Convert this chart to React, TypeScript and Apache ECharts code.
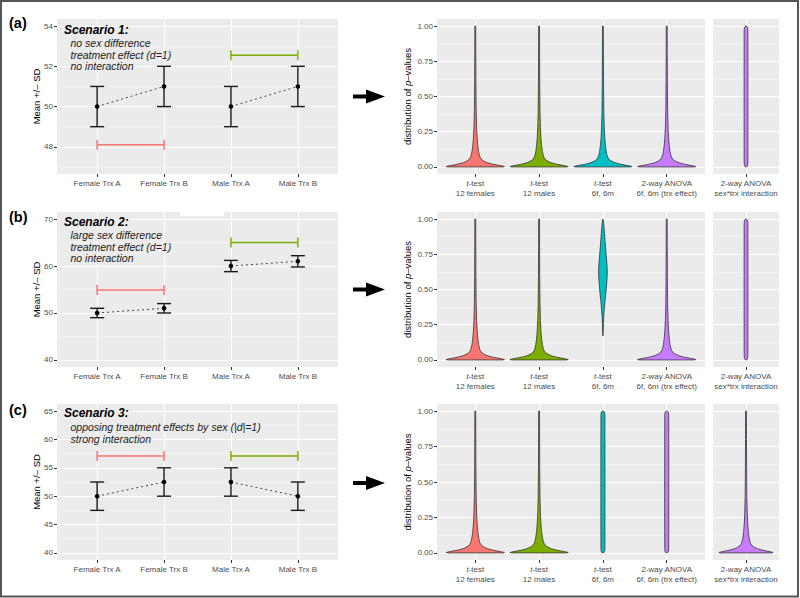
import React, { useEffect, useRef } from 'react';
import * as echarts from 'echarts';

// ---------- data ----------
const groups = ['Female Trx A', 'Female Trx B', 'Male Trx A', 'Male Trx B'];
const tests = ['t-test\n12 females', 't-test\n12 males', 't-test\n6f, 6m', '2-way ANOVA\n6f, 6m (trx effect)'];
const interactionTest = ['2-way ANOVA\nsex*trx interaction'];

const meansA = [50, 51, 50, 51];
const sdsA = [1, 1, 1, 1];
const meansB = [50, 51, 60, 61];
const sdsB = [1, 1, 1.2, 1.2];
const meansC = [50, 52.5, 52.5, 50];
const sdsC = [2.5, 2.5, 2.5, 2.5];

// treatment-effect brackets: [from group, to group, y]
const bracketsA = [[0, 1, 48.1], [2, 3, 52.55]];
const bracketsB = [[0, 1, 54.9], [2, 3, 65]];
const bracketsC = [[0, 1, 57.1], [2, 3, 57.1]];

const limitsA = [46.65, 54.35];
const limitsB = [38.5, 71.5];
const limitsC = [38.75, 66.25];
const limitsP = [-0.05, 1.05];

const ticksA = [48, 50, 52, 54];
const minorA = [47, 49, 51, 53];
const ticksB = [40, 50, 60, 70];
const minorB = [45, 55, 65];
const ticksC = [40, 45, 50, 55, 60, 65];
const minorC = [42.5, 47.5, 52.5, 57.5, 62.5];
const ticksP = [0, 0.25, 0.5, 0.75, 1];
const minorP = [0.125, 0.375, 0.625, 0.875];

// violin profiles: [p-value, half-width as fraction of category spacing]
const skewedProfile = [
  [0, 0.43], [0.003, 0.456], [0.008, 0.41], [0.013, 0.35], [0.02, 0.27], [0.03, 0.19],
  [0.04, 0.14], [0.05, 0.105], [0.065, 0.08], [0.085, 0.063], [0.11, 0.052], [0.15, 0.04],
  [0.2, 0.03], [0.28, 0.021], [0.4, 0.014], [0.6, 0.01], [0.8, 0.008], [1, 0.007],
];
const uniformProfile = [
  [0, 0], [0.003, 0.017], [0.01, 0.026], [0.03, 0.031], [0.5, 0.032], [0.97, 0.031],
  [0.99, 0.026], [0.997, 0.017], [1, 0],
];
const bellProfile = [
  [0.17, 0], [0.2, 0.005], [0.26, 0.008], [0.31, 0.013], [0.36, 0.021], [0.41, 0.031],
  [0.46, 0.042], [0.51, 0.053], [0.56, 0.062], [0.61, 0.068], [0.65, 0.067], [0.7, 0.06],
  [0.75, 0.05], [0.8, 0.041], [0.85, 0.033], [0.9, 0.025], [0.94, 0.018], [0.97, 0.012],
  [0.99, 0.007], [1, 0],
];

const violinsA = [skewedProfile, skewedProfile, skewedProfile, skewedProfile];
const interactionA = [uniformProfile];
const violinsB = [skewedProfile, skewedProfile, bellProfile, skewedProfile];
const interactionB = [uniformProfile];
const violinsC = [skewedProfile, skewedProfile, uniformProfile, uniformProfile];
const interactionC = [skewedProfile];

const scenarioTitles = ['Scenario 1:', 'Scenario 2:', 'Scenario 3:'];
const scenarioLines = [
  ['no sex difference', 'treatment effect (d=1)', 'no interaction'],
  ['large sex difference', 'treatment effect (d=1)', 'no interaction'],
  ['opposing treatment effects by sex (|d|=1)', 'strong interaction'],
];
const panelTags = ['(a)', '(b)', '(c)'];

// ---------- style ----------
const FONT = '"Liberation Sans", Arial, Helvetica, sans-serif';
const FILLS = ['#F8766D', '#7CAE00', '#00BFC4', '#C77CFF'];
const BG = '#EBEBEB';
const TXT = '#4D4D4D';

const rowsLayout = [
  { top: 19, height: 155, means: meansA, sds: sdsA, brackets: bracketsA, limits: limitsA, ticks: ticksA, minor: minorA, violins: violinsA, inter: interactionA, textY: [30, 43, 55, 66], arrowY: 96.5 },
  { top: 212, height: 155, means: meansB, sds: sdsB, brackets: bracketsB, limits: limitsB, ticks: ticksB, minor: minorB, violins: violinsB, inter: interactionB, textY: [222, 235, 247, 258], arrowY: 289.5 },
  { top: 404, height: 156, means: meansC, sds: sdsC, brackets: bracketsC, limits: limitsC, ticks: ticksC, minor: minorC, violins: violinsC, inter: interactionC, textY: [413, 427, 439], arrowY: 483 },
];
const tagY = [23, 217, 410];

function richLabel(s: string) {
  return s
    .split('\n')
    .map((line) => (line.startsWith('t-test') ? '{i|t}{n|' + line.slice(1) + '}' : '{n|' + line + '}'))
    .join('\n');
}

function violinRender(profiles: number[][][], fills: string[], widthScale: number) {
  return (params: any, api: any) => {
    const cat = api.value(0);
    const prof = profiles[params.dataIndex];
    const c0 = api.coord([cat, 0]);
    const unit = Math.abs(api.coord([cat + 1, 0])[0] - c0[0]);
    const right = prof.map(([p, w]) => {
      const pt = api.coord([cat, p]);
      return [pt[0] + w * unit * widthScale, pt[1]];
    });
    const left = prof
      .slice()
      .reverse()
      .map(([p, w]) => {
        const pt = api.coord([cat, p]);
        return [pt[0] - w * unit * widthScale, pt[1]];
      });
    return {
      type: 'polygon',
      shape: { points: right.concat(left) },
      style: { fill: fills[params.dataIndex], stroke: '#333333', lineWidth: 0.8 },
    };
  };
}

function errRender(params: any, api: any) {
  const x = api.value(0);
  const m = api.value(1);
  const s = api.value(2);
  const top = api.coord([x, m + s]);
  const bot = api.coord([x, m - s]);
  const mid = api.coord([x, m]);
  const hw = 7;
  const st = { stroke: '#1a1a1a', lineWidth: 1.4 };
  return {
    type: 'group',
    children: [
      { type: 'line', shape: { x1: top[0], y1: top[1], x2: bot[0], y2: bot[1] }, style: st },
      { type: 'line', shape: { x1: top[0] - hw, y1: top[1], x2: top[0] + hw, y2: top[1] }, style: st },
      { type: 'line', shape: { x1: bot[0] - hw, y1: bot[1], x2: bot[0] + hw, y2: bot[1] }, style: st },
      { type: 'circle', shape: { cx: mid[0], cy: mid[1], r: 2.3 }, style: { fill: '#000' } },
    ],
  };
}

function bracketRender(params: any, api: any) {
  const a = api.coord([api.value(0), api.value(2)]);
  const b = api.coord([api.value(1), api.value(2)]);
  const color = FILLS[params.dataIndex];
  const st = { stroke: color, lineWidth: 1.5 };
  const h = 5;
  return {
    type: 'group',
    children: [
      { type: 'line', shape: { x1: a[0], y1: a[1], x2: b[0], y2: b[1] }, style: st },
      { type: 'line', shape: { x1: a[0], y1: a[1] - h, x2: a[0], y2: a[1] + h }, style: st },
      { type: 'line', shape: { x1: b[0], y1: b[1] - h, x2: b[0], y2: b[1] + h }, style: st },
    ],
  };
}

function buildOption() {
  const grid: any[] = [];
  const xAxis: any[] = [];
  const yAxis: any[] = [];
  const series: any[] = [];
  const graphic: any[] = [];

  const rich = {
    i: { fontStyle: 'italic', fontSize: 8, fontFamily: FONT, color: TXT, lineHeight: 10, align: 'center' },
    n: { fontSize: 8, fontFamily: FONT, color: TXT, lineHeight: 10, align: 'center' },
  };

  rowsLayout.forEach((row, r) => {
    const panels = [
      { left: 57, width: 281, kind: 'means' },
      { left: 437, width: 268, kind: 'violin' },
      { left: 713, width: 66, kind: 'inter' },
    ];
    panels.forEach((panel) => {
      const gi = grid.length;
      grid.push({
        left: panel.left, top: row.top, width: panel.width, height: row.height,
        show: true, backgroundColor: BG, borderWidth: 0,
      });
      const labels = panel.kind === 'means' ? groups : panel.kind === 'violin' ? tests : interactionTest;
      const catVals = labels.map((_, k) => k);
      const xi = xAxis.length;
      xAxis.push({
        gridIndex: gi, type: 'value', min: -0.6, max: labels.length - 1 + 0.6, position: 'bottom',
        axisLine: { show: false, onZero: false },
        axisTick: { show: true, customValues: catVals, length: 3, lineStyle: { color: '#333333', width: 1 } },
        axisLabel: {
          show: true, customValues: catVals, margin: 4, color: TXT, fontSize: 8, fontFamily: FONT, lineHeight: 10,
          formatter: (v: number) => (panel.kind === 'means' ? labels[Math.round(v)] : richLabel(labels[Math.round(v)])),
          rich: panel.kind === 'means' ? undefined : rich,
        },
        splitLine: { show: true, lineStyle: { color: '#FFFFFF', width: 1.1 } },
      });
      const isMeans = panel.kind === 'means';
      const lim = isMeans ? row.limits : limitsP;
      const majors = isMeans ? row.ticks : ticksP;
      const minors = isMeans ? row.minor : minorP;
      const yi = yAxis.length;
      yAxis.push({
        gridIndex: gi, type: 'value', min: lim[0], max: lim[1], position: 'left',
        axisLine: { show: false, onZero: false },
        axisTick: { show: panel.kind !== 'inter', customValues: majors, length: 3, lineStyle: { color: '#333333', width: 1 } },
        axisLabel: {
          show: panel.kind !== 'inter', customValues: majors, margin: 4, color: TXT, fontSize: 8, fontFamily: FONT,
          formatter: (v: number) => (isMeans ? String(v) : v.toFixed(2)),
        },
        splitLine: { show: true, lineStyle: { color: '#FFFFFF', width: 1.1 } },
      });
      yAxis.push({
        gridIndex: gi, type: 'value', min: lim[0], max: lim[1], position: 'left',
        axisLine: { show: false, onZero: false },
        axisTick: { show: false, customValues: minors },
        axisLabel: { show: false, customValues: minors },
        splitLine: { show: true, lineStyle: { color: '#F7F7F7', width: 0.7 } },
      });

      if (isMeans) {
        [[0, 1], [2, 3]].forEach(([a, b]) => {
          series.push({
            type: 'line', xAxisIndex: xi, yAxisIndex: yi, silent: true, z: 2,
            data: [[a, row.means[a]], [b, row.means[b]]],
            symbol: 'none', lineStyle: { color: '#444444', width: 1, type: [2, 3] },
          });
        });
        series.push({
          type: 'custom', xAxisIndex: xi, yAxisIndex: yi, silent: true, z: 3,
          data: row.brackets, encode: { x: [0, 1], y: 2 }, renderItem: bracketRender,
        });
        series.push({
          type: 'custom', xAxisIndex: xi, yAxisIndex: yi, silent: true, z: 4,
          data: row.means.map((m, k) => [k, m, row.sds[k]]), encode: { x: 0, y: 1 }, renderItem: errRender,
        });
      } else {
        const profs = panel.kind === 'violin' ? row.violins : row.inter;
        const fills = panel.kind === 'violin' ? FILLS : [FILLS[3]];
        series.push({
          type: 'custom', xAxisIndex: xi, yAxisIndex: yi, silent: true, z: 3,
          data: profs.map((_, k) => [k, 0.5]), encode: { x: 0, y: 1 },
          renderItem: violinRender(profs, fills, panel.kind === 'violin' ? 1 : 1.08),
        });
      }
    });

    const midY = row.top + row.height / 2;
    // panel tag
    graphic.push({ type: 'text', x: 9, y: tagY[r], z: 10, style: { text: panelTags[r], font: `bold 14.5px ${FONT}`, fill: '#000', verticalAlign: 'middle', textVerticalAlign: 'middle' } });
    // scenario text
    graphic.push({ type: 'text', x: 64, y: row.textY[0], z: 10, style: { text: scenarioTitles[r], font: `italic bold 12px ${FONT}`, fill: '#000', verticalAlign: 'middle', textVerticalAlign: 'middle' } });
    scenarioLines[r].forEach((line, k) => {
      graphic.push({ type: 'text', x: 70.5, y: row.textY[k + 1], z: 10, style: { text: line, font: `italic 10.5px ${FONT}`, fill: '#1a1a1a', verticalAlign: 'middle', textVerticalAlign: 'middle' } });
    });
    // axis titles
    graphic.push({
      type: 'text', x: 36, y: midY, rotation: Math.PI / 2, z: 10,
      style: { text: 'Mean +/– SD', font: `9.5px ${FONT}`, fill: '#000', align: 'center', textAlign: 'center', verticalAlign: 'middle', textVerticalAlign: 'middle' },
    });
    graphic.push({
      type: 'text', x: 407, y: midY, rotation: Math.PI / 2, z: 10,
      style: {
        text: '{a|distribution of }{b|p}{a|–values}', align: 'center', textAlign: 'center', verticalAlign: 'middle', textVerticalAlign: 'middle',
        rich: {
          a: { fontSize: 9.5, fontFamily: FONT, fill: '#000', color: '#000' },
          b: { fontSize: 9.5, fontFamily: FONT, fontStyle: 'italic', fill: '#000', color: '#000' },
        },
      },
    });
    // arrow
    const ay = row.arrowY;
    graphic.push({ type: 'rect', z: 10, shape: { x: 353, y: ay - 2, width: 15, height: 4 }, style: { fill: '#000' } });
    graphic.push({ type: 'polygon', z: 10, shape: { points: [[366, ay - 7], [385, ay], [366, ay + 7]] }, style: { fill: '#000' } });
  });

  // white artifact box in panel (b) and outer frame
  graphic.push({ type: 'rect', z: 10, shape: { x: 180, y: 211, width: 44, height: 5 }, style: { fill: '#FFFFFF' } });
  graphic.push({ type: 'rect', z: 11, shape: { x: 1, y: 1, width: 797, height: 595.5 }, style: { fill: 'none', stroke: '#555555', lineWidth: 2 } });

  return { animation: false, backgroundColor: '#FFFFFF', grid, xAxis, yAxis, series, graphic };
}

export default function App() {
  const ref = useRef<HTMLDivElement>(null);
  useEffect(() => {
    const chart = echarts.init(ref.current as HTMLDivElement, null, { renderer: 'svg' });
    chart.setOption(buildOption() as any);
    return () => chart.dispose();
  }, []);
  return <div ref={ref} style={{ position: 'fixed', left: 0, top: 0, width: 800, height: 598, background: '#fff' }} />;
}
